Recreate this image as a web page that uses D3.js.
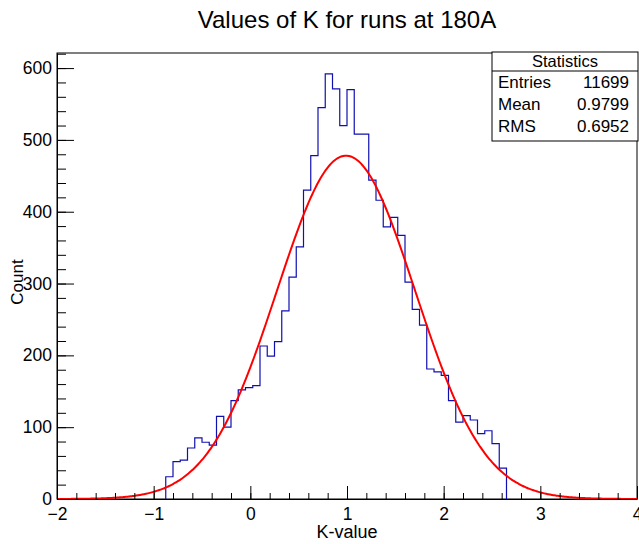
<!DOCTYPE html>
<html>
<head>
<meta charset="utf-8">
<script src="https://cdn.jsdelivr.net/npm/d3@7"></script>
<style>
  body { margin: 0; background: #fff; }
  svg text { font-family: "Liberation Sans", Arial, Helvetica, sans-serif; }
</style>
</head>
<body>
<div id="chart"></div>
<script>
// histogram: 80 bins from -2 to 4, only the filled ones kept here
var binWidth = 0.075;
var firstBinLow = -0.875;
var counts = [31, 52, 54, 71, 85, 79, 75, 115, 100, 137, 152, 155, 158,
	213, 199, 219, 262, 309, 351, 430, 478, 545, 592, 571, 520, 570,
	508, 508, 444, 416, 379, 392, 367, 302, 264, 242, 181, 177, 172,
	137, 107, 116, 110, 91, 95, 77, 43];

// gaus fit parameters
var fitConst = 478, fitMean = 0.99, fitSigma = 0.715;

var statLabels = ["Entries", "Mean", "RMS"];
var statValues = ["11699", "0.9799", "0.6952"];

var xTicks = [-2, -1, 0, 1, 2, 3, 4];
var yTicks = [0, 100, 200, 300, 400, 500, 600];

var width = 639, height = 544;
var padL = 57, padR = 637, padT = 53, padB = 499;

var svg = d3.select("#chart").append("svg")
	.attr("width", width)
	.attr("height", height);

var x = d3.scaleLinear().domain([-2, 4]).range([padL, padR]);
var y = d3.scaleLinear().domain([0, 621]).range([padB, padT]);

// frame
svg.append("rect")
	.attr("x", padL).attr("y", padT)
	.attr("width", padR - padL).attr("height", padB - padT)
	.attr("fill", "none").attr("stroke", "#000").attr("stroke-width", 1);

// histogram outline
var pts = [[firstBinLow, 0]];
counts.forEach(function (c, i) {
	var lo = firstBinLow + i * binWidth;
	pts.push([lo, c]);
	pts.push([lo + binWidth, c]);
});
pts.push([firstBinLow + counts.length * binWidth, 0]);

svg.append("path")
	.attr("d", d3.line().x(function (d) { return x(d[0]); }).y(function (d) { return y(d[1]); })(pts))
	.attr("fill", "none")
	.attr("stroke", "#1010b0")
	.attr("stroke-width", 1.2);

// fit curve
var fitPts = d3.range(-2, 4.0001, 0.02).map(function (v) {
	return [v, fitConst * Math.exp(-0.5 * Math.pow((v - fitMean) / fitSigma, 2))];
});
svg.append("path")
	.attr("d", d3.line().curve(d3.curveMonotoneX).x(function (d) { return x(d[0]); }).y(function (d) { return y(d[1]); })(fitPts))
	.attr("fill", "none")
	.attr("stroke", "#ff0000")
	.attr("stroke-width", 2);

// x axis (ticks point inward)
var fmt = function (d) { return d3.format("d")(d); };
svg.append("g")
	.attr("transform", "translate(0," + padB + ")")
	.call(d3.axisBottom(x).tickValues(d3.range(-2, 4.001, 0.2)).tickSize(-6).tickSizeOuter(0).tickFormat(""))
	.call(function (g) { g.select(".domain").remove(); });
var xAxis = svg.append("g")
	.attr("transform", "translate(0," + padB + ")")
	.call(d3.axisBottom(x).tickValues(xTicks).tickSize(-13).tickSizeOuter(0).tickPadding(6).tickFormat(fmt));
xAxis.select(".domain").attr("stroke", "#000");
xAxis.selectAll("text").attr("font-size", 17.5).attr("fill", "#000").attr("dy", "0.85em");

// y axis
svg.append("g")
	.attr("transform", "translate(" + padL + ",0)")
	.call(d3.axisLeft(y).tickValues(d3.range(0, 621, 20)).tickSize(-9).tickSizeOuter(0).tickFormat(""))
	.call(function (g) { g.select(".domain").remove(); });
var yAxis = svg.append("g")
	.attr("transform", "translate(" + padL + ",0)")
	.call(d3.axisLeft(y).tickValues(yTicks).tickSize(-17).tickSizeOuter(0).tickPadding(5).tickFormat(fmt));
yAxis.select(".domain").attr("stroke", "#000");
yAxis.selectAll("text").attr("font-size", 17.5).attr("fill", "#000");

// titles
svg.append("text")
	.attr("x", (padL + padR) / 2).attr("y", 28)
	.attr("text-anchor", "middle").attr("font-size", 24)
	.text("Values of K for runs at 180A");
svg.append("text")
	.attr("x", (padL + padR) / 2).attr("y", 538)
	.attr("text-anchor", "middle").attr("font-size", 18)
	.text("K-value");
svg.append("text")
	.attr("transform", "translate(23,282) rotate(-90)")
	.attr("text-anchor", "middle").attr("font-size", 17)
	.text("Count");

// stats box
var sx = 492, sy = 52, sw = 146, sh = 89;
svg.append("rect")
	.attr("x", sx).attr("y", sy).attr("width", sw).attr("height", sh)
	.attr("fill", "#fff").attr("stroke", "#000");
svg.append("line")
	.attr("x1", sx).attr("x2", sx + sw).attr("y1", 71).attr("y2", 71)
	.attr("stroke", "#000");
svg.append("text")
	.attr("x", sx + sw / 2).attr("y", 67)
	.attr("text-anchor", "middle").attr("font-size", 16.5)
	.text("Statistics");
statLabels.forEach(function (s, i) {
	svg.append("text")
		.attr("x", sx + 6).attr("y", 88 + i * 22)
		.attr("font-size", 17)
		.text(s);
	svg.append("text")
		.attr("x", sx + sw - 9).attr("y", 88 + i * 22)
		.attr("text-anchor", "end").attr("font-size", 17)
		.text(statValues[i]);
});
</script>
</body>
</html>
